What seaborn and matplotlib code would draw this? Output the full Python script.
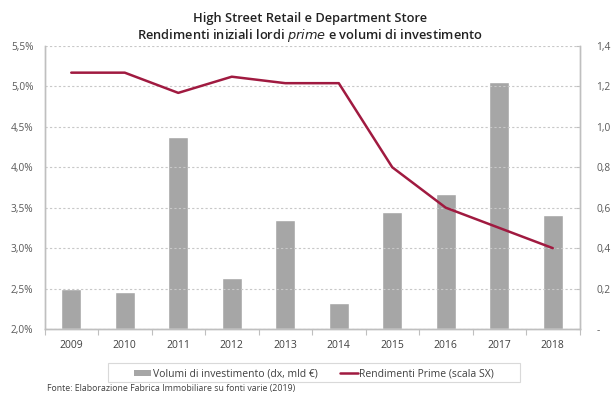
import numpy as np
import pandas as pd
import matplotlib
matplotlib.use("Agg")
import matplotlib.pyplot as plt
import seaborn as sns
from matplotlib.patches import Patch, Rectangle
from matplotlib.lines import Line2D

years = ["2009", "2010", "2011", "2012", "2013", "2014", "2015", "2016", "2017", "2018"]
volumi = [0.20, 0.185, 0.95, 0.25, 0.54, 0.13, 0.58, 0.67, 1.22, 0.565]
rendimenti = [5.17, 5.17, 4.92, 5.12, 5.04, 5.04, 4.00, 3.50, 3.25, 3.00]
left_ticks = [2.0, 2.5, 3.0, 3.5, 4.0, 4.5, 5.0, 5.5]
right_ticks = [0.0, 0.2, 0.4, 0.6, 0.8, 1.0, 1.2, 1.4]

title1 = "High Street Retail e Department Store"
legend_bar = "Volumi di investimento (dx, mld €)"
legend_line = "Rendimenti Prime (scala SX)"
source = "Fonte: Elaborazione Fabrica Immobiliare su fonti varie (2019)"

sns.set_theme(style="white")
plt.rcParams["font.family"] = ["Open Sans", "DejaVu Sans"]

df = pd.DataFrame({"anno": years, "volumi": volumi, "rendimenti": rendimenti,
                   "pos": np.arange(len(years))})

fig = plt.figure(figsize=(6.13, 3.94), dpi=100)
ax = fig.add_axes([0.0726, 0.165, 0.8728, 0.7183])
ax2 = ax.twinx()

grey_txt = "#595959"
spine_c = "#bfbfbf"
bar_c = "#a6a6a6"
line_c = "#a01a40"

# bars on right axis
sns.barplot(data=df, x="anno", y="volumi", ax=ax2, color=bar_c, width=0.375,
            saturation=1, order=years)
# line on left axis
sns.lineplot(data=df, x="pos", y="rendimenti", ax=ax, color=line_c, linewidth=1.8)

ax.set_zorder(ax2.get_zorder() + 1)
ax.patch.set_visible(False)

ax.set_xlim(-0.5, len(years) - 0.5)
ax.set_ylim(2.0, 5.5)
ax2.set_ylim(0, 1.4)

ax.set_yticks(left_ticks)
ax.set_yticklabels([f"{v:.1f}%".replace(".", ",") for v in left_ticks])
ax2.set_yticks(right_ticks)
ax2.set_yticklabels(["-" if v == 0 else f"{v:.1f}".replace(".", ",") for v in right_ticks])
ax.set_xticks(np.arange(len(years)))
ax.set_xticklabels(years)
ax.set_xticks(np.arange(len(years) + 1) - 0.5, minor=True)
ax.tick_params(axis="x", labelbottom=True)

ax.set_xlabel("")
ax.set_ylabel("")
ax2.set_xlabel("")
ax2.set_ylabel("")

for a in (ax, ax2):
    for s in a.spines.values():
        s.set_color(spine_c)
        s.set_linewidth(1.0)
    a.spines["top"].set_visible(False)

ax.tick_params(axis="y", labelsize=7.3, colors=grey_txt, length=0, pad=8)
ax2.tick_params(axis="y", labelsize=7.3, colors=grey_txt, length=3, width=0.8,
                direction="in", pad=12)
ax2.tick_params(axis="y", color=spine_c)
ax.tick_params(axis="x", which="major", labelsize=7.5, colors="#404040", length=0, pad=8)
ax.tick_params(axis="x", which="minor", length=4, width=0.8, color=spine_c,
               direction="out", bottom=True)

ax.yaxis.grid(True, linestyle=(0, (2, 2)), color="#c8c8c8", linewidth=0.8)
ax.set_axisbelow(True)
ax2.yaxis.grid(False)

fig.text(0.506, 0.954, title1, ha="center", va="center", fontsize=9.3, color="#222222",
         fontweight="semibold")
fig.text(0.506, 0.911, r"Rendimenti iniziali lordi $\it{prime}$ e volumi di investimento",
         ha="center", va="center", fontsize=9.3, color="#222222", fontweight="semibold")

# legend box
fig.add_artist(Rectangle((108 / 613, 1 - 382 / 394), 412 / 613, 19 / 394,
                         transform=fig.transFigure, facecolor="white",
                         edgecolor="#d9d9d9", linewidth=0.8))
handles = [Patch(facecolor=bar_c, edgecolor="none"),
           Line2D([0], [0], color=line_c, linewidth=1.8)]
leg = fig.legend(handles, [legend_bar, legend_line], loc="center",
                 bbox_to_anchor=(0.512, 0.051), ncol=2, fontsize=7.5, frameon=False,
                 handlelength=1.65, handleheight=0.5, handletextpad=0.15,
                 columnspacing=2.2, borderpad=0.2)
for t in leg.get_texts():
    t.set_color("#404040")

fig.text(47 / 613, 0.015, source, ha="left", va="center", fontsize=6.3, color="#404040")

fig.savefig("out.png", dpi=100)
